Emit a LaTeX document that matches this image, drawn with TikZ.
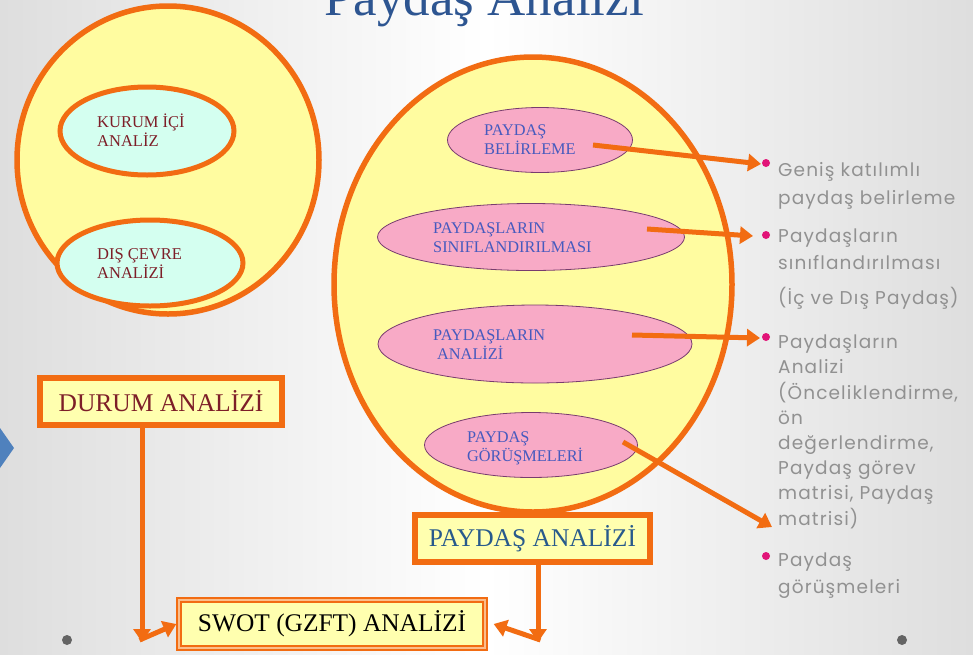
\documentclass[tikz,border=0pt]{standalone}
\usepackage{fontspec}
\setmainfont{Liberation Serif}
\newfontfamily\gothic{Poppins}[LetterSpace=6]
\usetikzlibrary{shapes.geometric,arrows.meta,calc}
\definecolor{orng}{RGB}{242,108,18}
\definecolor{ylw}{RGB}{255,252,160}
\definecolor{boxy}{RGB}{255,255,175}
\definecolor{cyn}{RGB}{212,255,240}
\definecolor{pnk}{RGB}{248,170,198}
\definecolor{pinkb}{RGB}{120,60,110}
\definecolor{dred}{RGB}{125,30,40}
\definecolor{pblue}{RGB}{70,90,190}
\definecolor{tblue}{RGB}{40,90,140}
\definecolor{ttl}{RGB}{45,85,145}
\definecolor{gtxt}{RGB}{145,145,145}
\definecolor{bgedge}{RGB}{222,222,222}
\definecolor{peach}{RGB}{250,190,140}
\definecolor{chev}{RGB}{79,129,189}
\definecolor{bmag}{RGB}{225,20,120}
\definecolor{dotg}{RGB}{100,100,100}
\begin{document}
\begin{tikzpicture}[x=1pt,y=-1pt,
  arr/.style={draw=orng, line width=5pt, -{Triangle[length=13pt,width=17pt]}},
  bigcirc/.style={ellipse, draw=orng, line width=5.5pt, fill=ylw, inner sep=0pt},
  cyanell/.style={ellipse, draw=orng, line width=5pt, fill=cyn, inner sep=0pt},
  pinkell/.style={ellipse, draw=pinkb, line width=0.8pt, fill=pnk, inner sep=0pt},
  obox/.style={rectangle, draw=orng, line width=5.5pt, fill=boxy, inner sep=0pt},
  redtxt/.style={text=dred, font=\fontsize{16.5}{18.5}\selectfont, align=left, inner sep=0pt, anchor=base west},
  bluetxt/.style={text=pblue, font=\fontsize{16.3}{19}\selectfont, align=left, inner sep=0pt, anchor=base west},
  graytxt/.style={text=gtxt, font=\gothic\fontsize{18.5}{25.3}\selectfont, align=left, inner sep=0pt, anchor=base west},
  bul/.style={circle, fill=bmag, inner sep=0pt, minimum size=8pt}]
\useasboundingbox (0,0) rectangle (973,654);
\clip (0,0) rectangle (973,654);
\shade[left color=bgedge, right color=bgedge, middle color=white] (0,0) rectangle (973,654);

% title
\node[text=ttl, font=\fontsize{53}{60}\selectfont, anchor=base, inner sep=0pt] (title) at (484,15) {Paydaş Analizi};

% left circle
\node[bigcirc, minimum width=302pt, minimum height=308pt] (lc) at (168,160) {};
\node[cyanell, minimum width=174pt, minimum height=88pt] (kie) at (147,131) {};
\node[cyanell, minimum width=186pt, minimum height=86pt] (dce) at (150,263) {};
\node[redtxt] (kit) at (97,146) {KURUM İÇİ\\ANALİZ};
\node[redtxt] (dct) at (97,278) {DIŞ ÇEVRE\\ANALİZİ};

% chevron
\fill[chev] (0,428) -- (14,448) -- (0,468) -- cycle;

% durum box
\node[obox, minimum width=242pt, minimum height=47pt, text=dred, font=\fontsize{25.5}{28}\selectfont] (durum) at (161,401.5) {DURUM ANALİZİ};

% right circle
\node[bigcirc, minimum width=398pt, minimum height=455pt] (rc) at (533,284.5) {};
\node[pinkell, minimum width=185pt, minimum height=65pt] (pb) at (540,140) {};
\node[pinkell, minimum width=307pt, minimum height=67pt] (ps) at (531,237) {};
\node[pinkell, minimum width=314pt, minimum height=78pt] (pan) at (535,344) {};
\node[pinkell, minimum width=213pt, minimum height=65pt] (pg) at (531,445) {};
\node[bluetxt] (pbt) at (484,154) {PAYDAŞ\\BELİRLEME};
\node[bluetxt] (pst) at (433,252) {PAYDAŞLARIN\\SINIFLANDIRILMASI};
\node[bluetxt] (pant) at (433,359) {PAYDAŞLARIN\\\hspace*{4pt}ANALİZİ};
\node[bluetxt] (pgt) at (467,461) {PAYDAŞ\\GÖRÜŞMELERİ};

% paydas analizi box
\node[obox, minimum width=235pt, minimum height=47pt, text=tblue, font=\fontsize{25.5}{28}\selectfont] (pa) at (532.5,538.5) {PAYDAŞ ANALİZİ};

% swot box
\node[rectangle, draw=orng, line width=1.3pt, double=peach, double distance=2.6pt, fill=boxy, minimum width=306pt, minimum height=48pt, inner sep=0pt, font=\fontsize{25.4}{30}\selectfont] (swot) at (332,624) {SWOT (GZFT) ANALİZİ};

% bullets and texts
\node[bul] (b1) at (766,163) {};
\node[bul] (b2) at (766,235) {};
\node[bul] (b3) at (766,337) {};
\node[bul] (b4) at (766,556) {};
\node[graytxt, font=\gothic\fontsize{18.5}{27.5}\selectfont] (t1) at (778,204) {Geniş katılımlı\\paydaş belirleme};
\node[graytxt, font=\gothic\fontsize{18.5}{26.5}\selectfont] (t2) at (778,269) {Paydaşların\\sınıflandırılması};
\node[graytxt] (t3) at (778,304) {(İç ve Dış Paydaş)};
\node[graytxt, font=\gothic\fontsize{18.5}{25.2}\selectfont] (t4) at (778,525) {Paydaşların\\Analizi\\(Önceliklendirme,\\ön\\değerlendirme,\\Paydaş görev\\matrisi, Paydaş\\matrisi)};
\node[graytxt, font=\gothic\fontsize{18.5}{26.5}\selectfont] (t5) at (778,593) {Paydaş\\görüşmeleri};

% arrows from ellipses
\coordinate (s1) at (593,145);
\coordinate (e1) at (761,164);
\coordinate (s2) at (647,229);
\coordinate (e2) at (753,236);
\coordinate (s3) at (632,335);
\coordinate (e3) at (760,338);
\coordinate (s4) at (623,442);
\coordinate (e4) at (772,527);
\draw[arr] (s1) -- (e1);
\draw[arr] (s2) -- (e2);
\draw[arr] (s3) -- (e3);
\draw[arr] (s4) -- (e4);

% bottom connectors
\coordinate (dc) at (142,640);
\coordinate (pc) at (538,640);
\draw[arr] (durum.south -| dc) -- ([yshift=-2pt]dc);
\draw[arr] ([xshift=-2.5pt]dc) -- ([xshift=-2pt]swot.west);
\draw[arr] (pa.south -| pc) -- ([yshift=-2pt]pc);
\draw[arr] ([xshift=2.5pt]pc) -- ([xshift=8pt]swot.east);

% page dots
\fill[dotg] (67,640) circle (5pt);
\fill[dotg] (902,640) circle (5pt);
\end{tikzpicture}
\end{document}
